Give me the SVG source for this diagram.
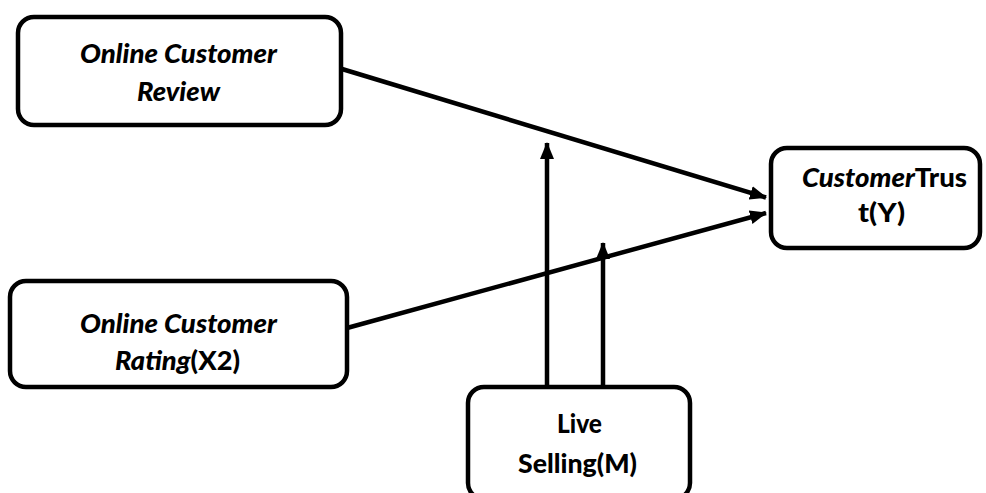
<svg xmlns="http://www.w3.org/2000/svg" width="986" height="493" viewBox="0 0 986 493">
<style>
.box{fill:#fff;stroke:#000;stroke-width:4.5}
.t{font-family:Lato,"Open Sans","Liberation Sans",sans-serif;font-weight:900;font-size:26px;fill:#000;text-anchor:middle}
.i{font-style:italic}
.c{stroke:#000;stroke-width:4.5;fill:none}
</style>
<defs>
<marker id="ah" markerUnits="userSpaceOnUse" markerWidth="18" markerHeight="14" refX="16" refY="7" orient="auto">
<path d="M0,0 L17,7 L0,14 Z" fill="#000"/>
</marker>
</defs>
<rect width="986" height="493" fill="#fff"/>
<g id="connectors">
<line class="c" x1="342" y1="69" x2="766" y2="197.5" marker-end="url(#ah)"/>
<line class="c" x1="347" y1="328" x2="766" y2="213" marker-end="url(#ah)"/>
<line class="c" x1="547" y1="387" x2="547" y2="143" marker-end="url(#ah)"/>
<line class="c" x1="603" y1="387" x2="603" y2="243" marker-end="url(#ah)"/>
</g>
<g id="review">
<rect class="box" x="18" y="17" width="323" height="108" rx="16"/>
<text class="t i" x="178.5" y="63" textLength="197" lengthAdjust="spacingAndGlyphs">Online Customer</text>
<text class="t i" x="178.5" y="101" textLength="83" lengthAdjust="spacingAndGlyphs">Review</text>
</g>
<g id="rating">
<rect class="box" x="10" y="281" width="337" height="106" rx="16"/>
<text class="t i" x="178.5" y="333" textLength="197" lengthAdjust="spacingAndGlyphs">Online Customer</text>
<text class="t" x="177.5" y="370" textLength="125" lengthAdjust="spacingAndGlyphs"><tspan class="i">Rating</tspan>(X2)</text>
</g>
<g id="live">
<rect class="box" x="468" y="387" width="222" height="112" rx="16"/>
<text class="t" x="579.5" y="433" textLength="45" lengthAdjust="spacingAndGlyphs">Live</text>
<text class="t" x="577.5" y="473" textLength="119" lengthAdjust="spacingAndGlyphs">Selling(M)</text>
</g>
<g id="trust">
<rect class="box" x="771" y="148" width="209" height="100" rx="16"/>
<text class="t" x="884.5" y="187" textLength="165" lengthAdjust="spacingAndGlyphs"><tspan class="i">Customer</tspan>Trus</text>
<text class="t" x="881.5" y="222" textLength="47" lengthAdjust="spacingAndGlyphs">t(Y)</text>
</g>
</svg>
